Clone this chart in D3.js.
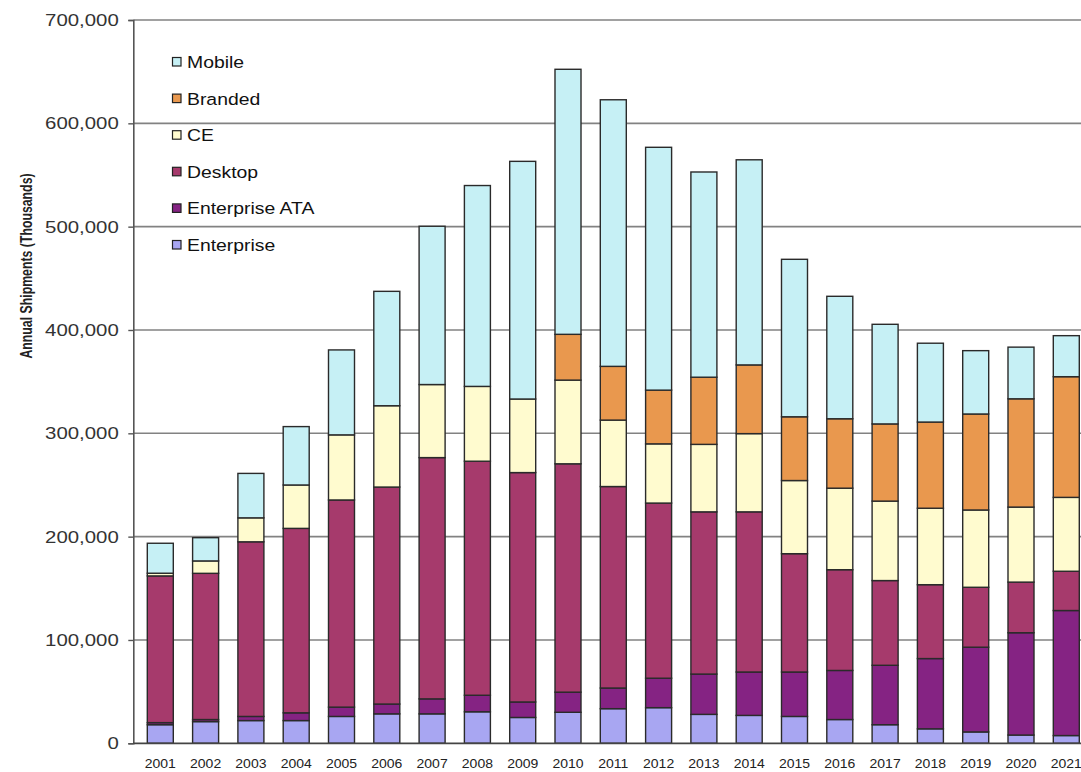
<!DOCTYPE html>
<html>
<head>
<meta charset="utf-8">
<script src="https://cdn.jsdelivr.net/npm/d3@7"></script>
<style>
  html, body { margin: 0; padding: 0; background: #fff; }
  svg { display: block; }
  text { font-family: "Liberation Sans", Arial, sans-serif; }
</style>
</head>
<body>
<script>
// Annual hard-drive shipments by segment, 2001–2021 (thousands of units)
const years = ["2001","2002","2003","2004","2005","2006","2007","2008","2009","2010",
               "2011","2012","2013","2014","2015","2016","2017","2018","2019","2020","2021"];

const enterprise    = [18000, 21000, 22000, 22000, 26000, 28500, 28500, 30500, 25000, 30000,
                       33500, 34500, 28000, 27000, 26000, 23000, 18000, 14000, 11000, 8000, 7500];
const enterpriseATA = [2000, 2000, 4000, 7500, 9000, 9500, 14500, 16000, 15000, 19500,
                       20000, 28500, 39000, 42000, 43000, 47500, 57500, 68000, 82000, 99000, 121000];
const desktop       = [142000, 141500, 169000, 178500, 200500, 210000, 233500, 226500, 222000, 221000,
                       195000, 169500, 157000, 155000, 114500, 97500, 82000, 71500, 58000, 49000, 38000];
const ce            = [2600, 12000, 23200, 42000, 63000, 78700, 70700, 72400, 71200, 81000,
                       64300, 57300, 65300, 75700, 70800, 78900, 76900, 74000, 74800, 72600, 71500];
const branded       = [0, 0, 0, 0, 0, 0, 0, 0, 0, 44300,
                       52000, 52000, 65000, 66500, 61700, 67200, 74700, 83400, 92900, 104800, 116800];
const mobile        = [29000, 22500, 43000, 56500, 82200, 110700, 153200, 194400, 230000, 256500,
                       258000, 235000, 198600, 198500, 152400, 118500, 96400, 76300, 61300, 50000, 39700];

const yTicks = [0, 100000, 200000, 300000, 400000, 500000, 600000, 700000];
const yTitle = "Annual Shipments (Thousands)";

// Series, bottom of the stack first
const series = [
  { key: "Enterprise",     values: enterprise,    color: "#A8A6F2" },
  { key: "Enterprise ATA", values: enterpriseATA, color: "#852383" },
  { key: "Desktop",        values: desktop,       color: "#A63A6C" },
  { key: "CE",             values: ce,            color: "#FFFBCF" },
  { key: "Branded",        values: branded,       color: "#E9984E" },
  { key: "Mobile",         values: mobile,        color: "#C6F0F5" }
];

const W = 1081, H = 772;
const axisX = 133.3;
const step = 45.3;

const rows = years.map((yr, i) => {
  const r = { year: yr };
  series.forEach(s => { r[s.key] = s.values[i]; });
  return r;
});

const svg = d3.select("body").append("svg").attr("width", W).attr("height", H);

const x = d3.scaleBand()
  .domain(years)
  .range([137.65, 137.65 + years.length * step])
  .paddingInner(0.426)
  .paddingOuter(0.213);

const y = d3.scaleLinear().domain([0, 700000]).range([743.3, 20]);

// Horizontal gridlines
svg.append("g")
  .selectAll("line")
  .data(yTicks.filter(d => d > 0))
  .join("line")
  .attr("x1", axisX).attr("x2", W)
  .attr("y1", d => y(d)).attr("y2", d => y(d))
  .attr("stroke", "#828282")
  .attr("stroke-width", 1.6);

// Stacked bars
const stack = d3.stack().keys(series.map(s => s.key));
const layers = stack(rows);
const colorOf = d3.scaleOrdinal().domain(series.map(s => s.key)).range(series.map(s => s.color));

svg.append("g")
  .selectAll("g")
  .data(layers)
  .join("g")
  .attr("fill", d => colorOf(d.key))
  .selectAll("rect")
  .data(d => d.filter(p => p[1] - p[0] > 0))
  .join("rect")
  .attr("x", d => x(d.data.year))
  .attr("width", x.bandwidth())
  .attr("y", d => y(d[1]))
  .attr("height", d => y(d[0]) - y(d[1]))
  .attr("stroke", "#2a2a2a")
  .attr("stroke-width", 1.4);

// Y axis
const yAxis = svg.append("g")
  .attr("transform", `translate(${axisX},0)`)
  .call(d3.axisLeft(y).tickValues(yTicks).tickSize(5).tickFormat(d3.format(",")));
yAxis.select(".domain").attr("stroke", "#555").attr("stroke-width", 1.6);
yAxis.selectAll(".tick line").attr("stroke", "#555").attr("stroke-width", 1.4);
yAxis.selectAll(".tick text")
  .attr("x", null)
  .attr("text-anchor", "end")
  .attr("transform", "translate(-14.5,0) scale(1.2,1)")
  .attr("fill", "#333")
  .style("font-size", "17px");

// X axis baseline
svg.append("line")
  .attr("x1", axisX).attr("x2", W)
  .attr("y1", y(0)).attr("y2", y(0))
  .attr("stroke", "#444").attr("stroke-width", 1.8);

// Year labels
svg.append("g")
  .selectAll("text")
  .data(years)
  .join("text")
  .attr("text-anchor", "middle")
  .attr("transform", d => `translate(${x(d) + x.bandwidth() / 2},767.5) scale(1.12,1)`)
  .attr("fill", "#222")
  .style("font-size", "12.5px")
  .text(d => d);

// Y axis title
svg.append("text")
  .attr("text-anchor", "middle")
  .attr("transform", "translate(32,266) rotate(-90) scale(1,1.35)")
  .attr("fill", "#222")
  .style("font-size", "12.3px")
  .style("font-weight", "bold")
  .text(yTitle);

// Legend (top of stack listed first)
const legendItems = series.slice().reverse();
const legend = svg.append("g")
  .selectAll("g")
  .data(legendItems)
  .join("g")
  .attr("transform", (d, i) => `translate(0,${62 + i * 36.6})`);

legend.append("rect")
  .attr("x", 172.5).attr("y", -4.5)
  .attr("width", 8.5).attr("height", 8.5)
  .attr("fill", d => d.color)
  .attr("stroke", "#222").attr("stroke-width", 1.2);

legend.append("text")
  .attr("transform", "translate(187,6) scale(1.14,1)")
  .attr("fill", "#111")
  .style("font-size", "17px")
  .text(d => d.key);
</script>
</body>
</html>
